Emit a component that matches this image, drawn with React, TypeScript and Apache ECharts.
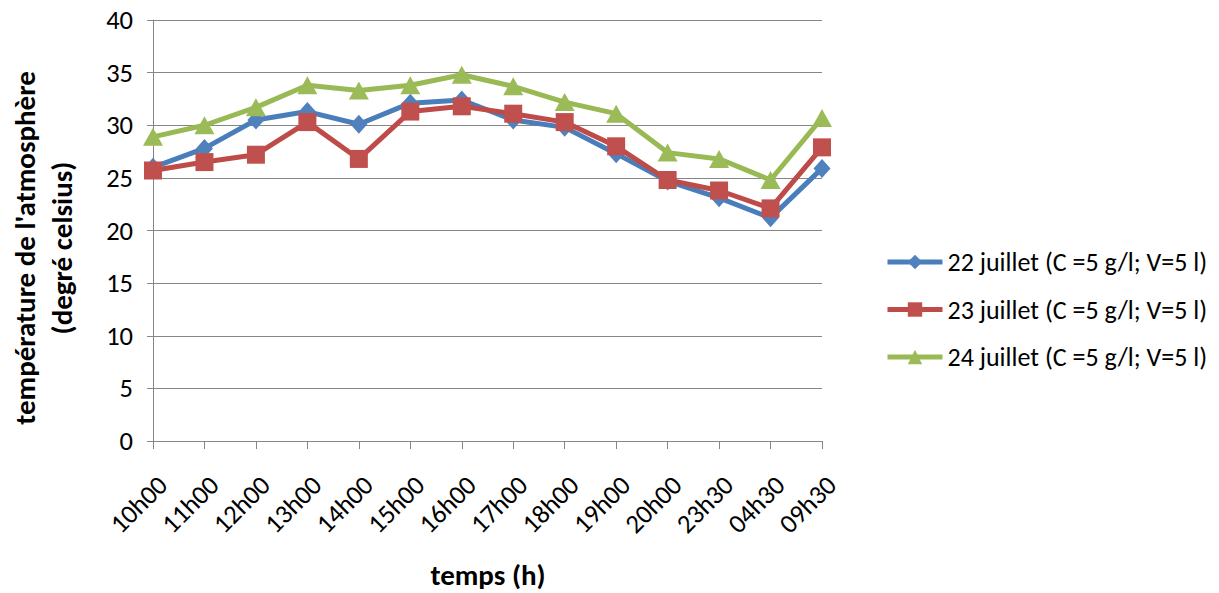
import React, { useEffect, useRef } from "react";
import * as echarts from "echarts";

const categories = ["10h00", "11h00", "12h00", "13h00", "14h00", "15h00", "16h00", "17h00", "18h00", "19h00", "20h00", "23h30", "04h30", "09h30"];
const serie22 = [26.0, 27.8, 30.5, 31.3, 30.1, 32.1, 32.4, 30.5, 29.8, 27.3, 24.7, 23.1, 21.2, 25.9];
const serie23 = [25.7, 26.5, 27.2, 30.3, 26.8, 31.3, 31.8, 31.1, 30.3, 28.0, 24.8, 23.8, 22.1, 27.9];
const serie24 = [28.9, 30.0, 31.7, 33.8, 33.3, 33.8, 34.8, 33.7, 32.2, 31.1, 27.4, 26.8, 24.8, 30.7];
const seriesNames = [
  "22 juillet (C =5 g/l; V=5 l)",
  "23 juillet (C =5 g/l; V=5 l)",
  "24 juillet (C =5 g/l; V=5 l)",
];
const yTitle = ["température de l'atmosphère", "(degré celsius)"];
const xTitle = "temps (h)";

const FONT = "Carlito, Lato, 'Liberation Sans', sans-serif";
const GRID = "#868686";

export default function App() {
  const ref = useRef<HTMLDivElement>(null);
  useEffect(() => {
    if (!ref.current) return;
    const chart = echarts.init(ref.current, undefined, { renderer: "svg" });
    const mk = (name: string, data: number[], line: string, fill: string, symbol: string, size: number | number[]) => ({
      name,
      type: "line",
      data,
      symbol,
      symbolSize: size,
      lineStyle: { color: line, width: 5 },
      itemStyle: { color: fill, borderColor: fill, borderWidth: 0 },
      emphasis: { disabled: true },
    });
    chart.setOption({
      animation: false,
      textStyle: { fontFamily: FONT },
      grid: { left: 153, right: 397, top: 20, bottom: 152, containLabel: false },
      legend: {
        orient: "vertical",
        left: 885,
        top: 249,
        itemWidth: 55,
        itemHeight: 18,
        itemGap: 21.5,
        lineStyle: { width: 5 },
        textStyle: { fontFamily: FONT, fontSize: 26, color: "#000", lineHeight: 26, padding: [0, 0, 0, 0] },
        padding: 0,
        data: seriesNames,
      },
      xAxis: {
        type: "category",
        data: categories,
        boundaryGap: false,
        axisLine: { lineStyle: { color: GRID, width: 1 } },
        axisTick: { show: true, length: 8, lineStyle: { color: GRID } },
        axisLabel: {
          rotate: 45,
          fontSize: 26.5,
          color: "#000",
          margin: 30,
          fontFamily: FONT,
          interval: 0,
          align: "right",
          verticalAlign: "top",
        },
        splitLine: { show: false },
      },
      yAxis: {
        type: "value",
        min: 0,
        max: 40,
        interval: 5,
        axisLine: { show: true, lineStyle: { color: GRID, width: 1 } },
        axisTick: { show: true, length: 6, lineStyle: { color: GRID } },
        axisLabel: { fontSize: 26.5, color: "#000", margin: 20, fontFamily: FONT },
        splitLine: { show: true, lineStyle: { color: GRID, width: 1 } },
      },
      graphic: [
        {
          type: "text",
          x: 43,
          y: 248,
          rotation: Math.PI / 2,
          style: {
            text: yTitle.join("\n"),
            font: `bold 29px ${FONT}`,
            fill: "#000",
            align: "center",
            verticalAlign: "middle",
            lineHeight: 37,
          },
        },
        {
          type: "text",
          x: 488,
          y: 575,
          style: {
            text: xTitle,
            font: `bold 29px ${FONT}`,
            fill: "#000",
            align: "center",
            verticalAlign: "middle",
          },
        },
      ],
      series: [
        mk(seriesNames[0], serie22, "#4A7EBB", "#4F81BD", "diamond", [17, 19]),
        mk(seriesNames[1], serie23, "#BE4B48", "#C0504D", "rect", 18),
        mk(seriesNames[2], serie24, "#98B954", "#9BBB59", "triangle", [20, 18]),
      ],
    });
    return () => chart.dispose();
  }, []);
  return <div ref={ref} style={{ position: "absolute", left: 0, top: 0, width: 1219, height: 593, background: "#fff" }} />;
}
